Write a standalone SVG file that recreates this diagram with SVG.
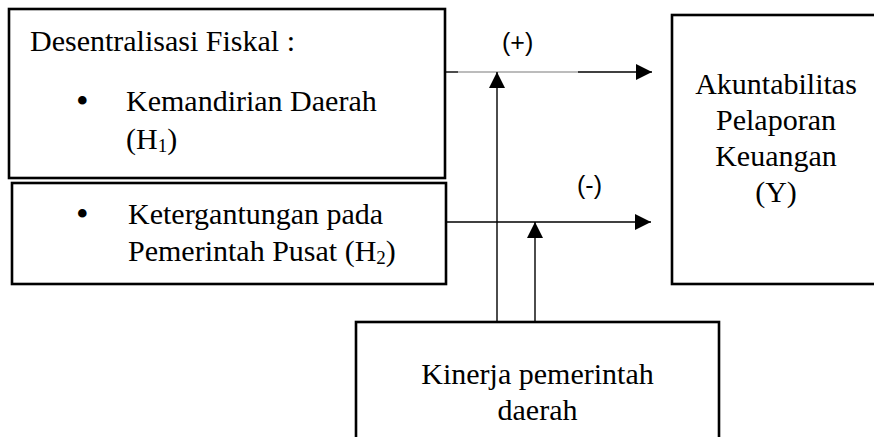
<svg xmlns="http://www.w3.org/2000/svg" width="874" height="437" viewBox="0 0 874 437">
  <style>
    .box { fill: #ffffff; stroke: #000000; stroke-width: 2.6; }
    .t { font-family: "Liberation Serif", "Times New Roman", serif; font-size: 30px; fill: #000000; }
    .sub { font-size: 19px; }
    .dot { font-size: 36px; }
    .sign { font-family: "Liberation Sans", Arial, sans-serif; font-size: 25px; fill: #000000; }
    .wire { fill: none; stroke: #000000; stroke-width: 1.4; }
    .faint { fill: none; stroke: #a6a6a6; stroke-width: 1.4; }
  </style>
  <defs>
    <marker id="arrow" markerUnits="userSpaceOnUse" markerWidth="16" markerHeight="16" viewBox="0 0 16 16" refX="16" refY="8" orient="auto">
      <path d="M0,0 L16,8 L0,16 Z" fill="#000000"/>
    </marker>
  </defs>

  <rect width="874" height="437" fill="#ffffff"/>

  <!-- independent variables -->
  <g id="desentralisasi">
    <rect class="box" x="9" y="9" width="436" height="169"/>
    <text class="t" x="30" y="51">Desentralisasi Fiskal :</text>
    <text class="t dot" x="76" y="113">•</text>
    <text class="t" x="126" y="111">Kemandirian Daerah</text>
    <text class="t" x="126" y="149">(H<tspan class="sub" dy="3">1</tspan><tspan dy="-3">)</tspan></text>
  </g>

  <g id="ketergantungan">
    <rect class="box" x="12" y="183" width="434" height="101"/>
    <text class="t dot" x="76" y="226">•</text>
    <text class="t" x="128" y="224">Ketergantungan pada</text>
    <text class="t" x="128" y="261">Pemerintah Pusat (H<tspan class="sub" dy="3">2</tspan><tspan dy="-3">)</tspan></text>
  </g>

  <!-- dependent variable -->
  <g id="akuntabilitas">
    <rect class="box" x="672" y="15" width="240" height="269"/>
    <text class="t" x="776" y="94" text-anchor="middle">Akuntabilitas</text>
    <text class="t" x="776" y="130" text-anchor="middle">Pelaporan</text>
    <text class="t" x="776" y="166" text-anchor="middle">Keuangan</text>
    <text class="t" x="776" y="202" text-anchor="middle">(Y)</text>
  </g>

  <!-- moderating variable -->
  <g id="kinerja">
    <rect class="box" x="356" y="322" width="363" height="140"/>
    <text class="t" x="537.5" y="384" text-anchor="middle">Kinerja pemerintah</text>
    <text class="t" x="537.5" y="420" text-anchor="middle">daerah</text>
  </g>

  <!-- connectors -->
  <g id="connectors">
    <line class="wire" x1="446" y1="72" x2="458" y2="72"/>
    <line class="faint" x1="458" y1="72" x2="578" y2="72"/>
    <line class="wire" x1="578" y1="72" x2="652" y2="72" marker-end="url(#arrow)"/>
    <line class="wire" x1="447" y1="222" x2="651" y2="222" marker-end="url(#arrow)"/>
    <line class="wire" x1="497" y1="321" x2="497" y2="72" marker-end="url(#arrow)"/>
    <line class="wire" x1="535" y1="321" x2="535" y2="222" marker-end="url(#arrow)"/>
    <text class="sign" x="502" y="51">(+)</text>
    <text class="sign" x="577" y="194">(-)</text>
  </g>
</svg>
